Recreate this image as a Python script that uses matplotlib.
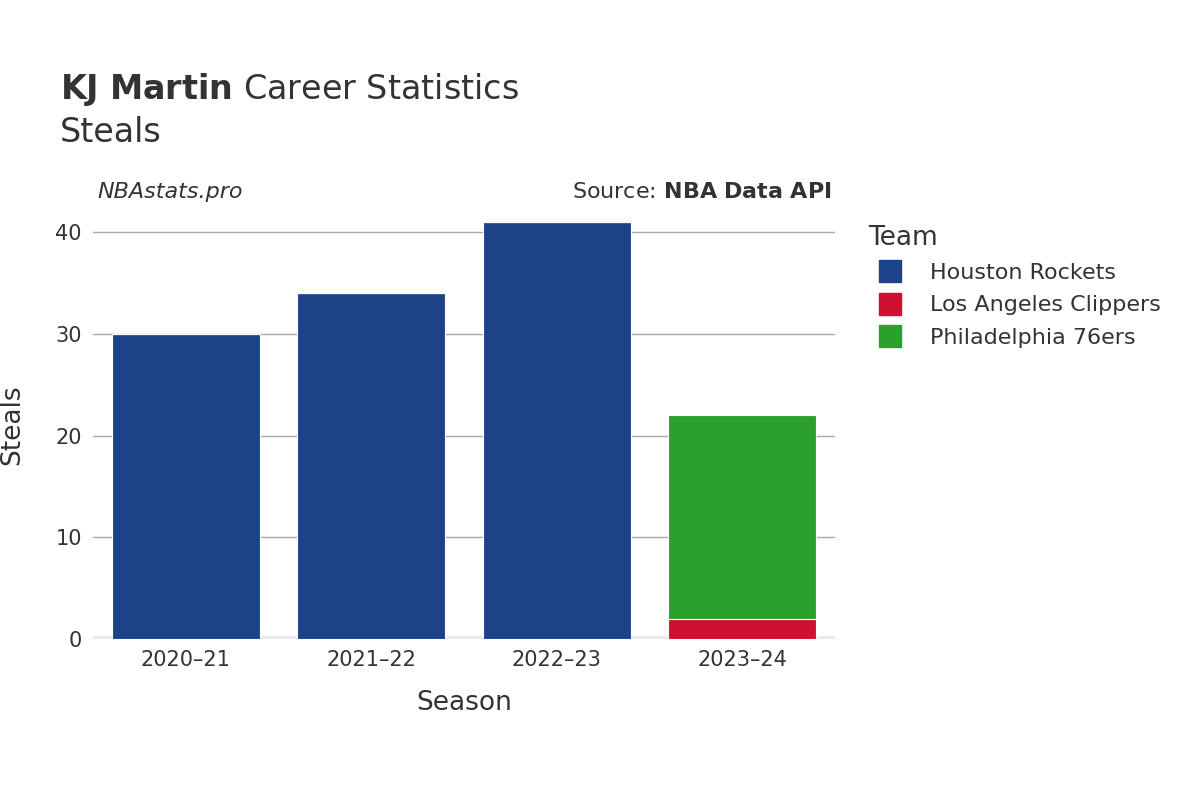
import matplotlib
matplotlib.use("Agg")
import matplotlib.pyplot as plt
from matplotlib.lines import Line2D

seasons = ["2020–21", "2021–22", "2022–23", "2023–24"]
teams = ["Houston Rockets", "Los Angeles Clippers", "Philadelphia 76ers"]
colors = ["#1c4388", "#ce1131", "#2ca02c"]
values = {
    "Houston Rockets": [30, 34, 41, 0],
    "Los Angeles Clippers": [0, 0, 0, 2],
    "Philadelphia 76ers": [0, 0, 0, 20],
}
yticks = [0, 10, 20, 30, 40]

fig = plt.figure(figsize=(12, 8), dpi=100)
ax = fig.add_axes([93/1200, 161/800, 742/1200, 429/800])
x = list(range(len(seasons)))
bottom = [0]*len(seasons)
for t, c in zip(teams, colors):
    v = values[t]
    ax.bar(x, v, width=0.8, bottom=bottom, color=c, edgecolor="white", linewidth=0.8, zorder=3)
    bottom = [b+a for b, a in zip(bottom, v)]

ax.set_xlim(-0.5, 3.5)
ax.set_ylim(0, 42.2)
ax.set_yticks(yticks)
ax.set_xticks(x)
ax.set_xticklabels(seasons)
ax.grid(axis="y", color="#aaaaaa", linewidth=1, zorder=0)
ax.axhline(0, color="#e8e8ee", linewidth=4, zorder=2)
for s in ax.spines.values():
    s.set_visible(False)
ax.tick_params(length=0, labelsize=15, colors="#333333", pad=8)
ax.set_xlabel("Season", fontsize=19, color="#333333", labelpad=14)
ax.set_ylabel("Steals", fontsize=19, color="#333333", labelpad=22)

fig.text(60/1200, 1-89/800, r"$\bf{KJ\ Martin}$ Career Statistics", fontsize=24, color="#333333", va="center")
fig.text(60/1200, 1-132/800, "Steals", fontsize=24, color="#333333", va="center")
fig.text(97/1200, 1-192/800, "NBAstats.pro", fontsize=16, style="italic", color="#333333", va="center")
fig.text(832/1200, 1-192/800, r"Source: $\bf{NBA\ Data\ API}$", fontsize=16, color="#333333", va="center", ha="right")

handles = [Line2D([], [], marker="s", linestyle="", markersize=16, color=c) for c in colors]
leg = fig.legend(handles, teams, loc="upper left", bbox_to_anchor=(848/1200, 1-205/800),
                 frameon=False, fontsize=16, title="Team", title_fontsize=19,
                 labelspacing=0.55, handletextpad=0.8)
leg._legend_box.align = "left"
for t in leg.get_texts():
    t.set_color("#333333")
leg.get_title().set_color("#333333")

fig.savefig("out.png")
